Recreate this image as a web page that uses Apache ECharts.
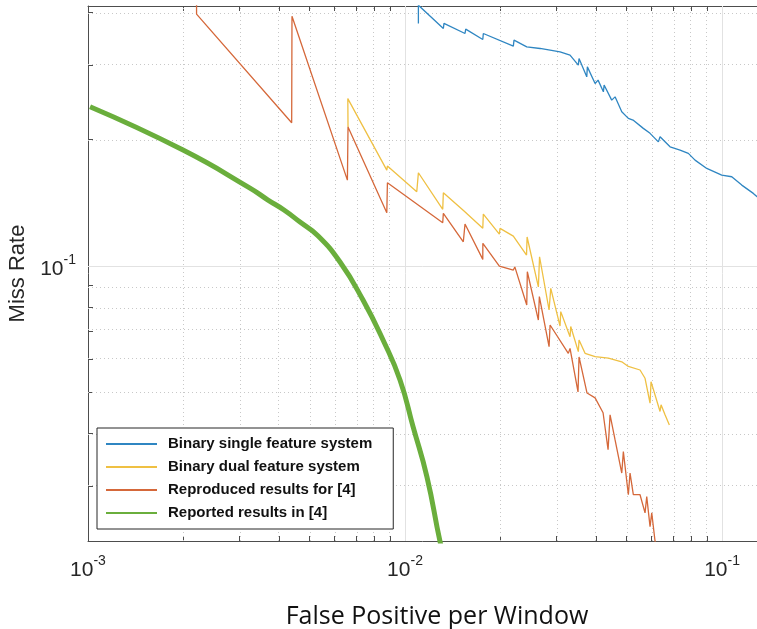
<!DOCTYPE html>
<html>
<head>
<meta charset="utf-8">
<title>Miss Rate vs False Positive per Window</title>
<script src="https://cdn.jsdelivr.net/npm/echarts@6/dist/echarts.min.js"></script>
<style>
  html, body { margin: 0; padding: 0; background: #fff; }
  #chart { width: 757px; height: 629px; }
</style>
</head>
<body>
<div id="chart"></div>
<script>
// values: [false positive per window, miss rate]
var binarySingle = [
  [0.01102, 0.3772], [0.01102, 0.4169], [0.01321, 0.367], [0.01327, 0.3772], [0.01546, 0.357],
  [0.01554, 0.3656], [0.01759, 0.3456], [0.01766, 0.357], [0.02196, 0.3331], [0.02207, 0.3443],
  [0.02421, 0.3318], [0.02667, 0.3289], [0.03083, 0.3228], [0.03128, 0.3259], [0.03315, 0.3171],
  [0.03521, 0.3002], [0.03539, 0.3114], [0.03743, 0.2816], [0.0376, 0.2974], [0.03977, 0.2716],
  [0.04064, 0.2766], [0.04224, 0.2594], [0.04246, 0.2692], [0.04487, 0.2479], [0.04598, 0.2524],
  [0.04827, 0.2326], [0.05063, 0.2244], [0.05238, 0.2223], [0.05645, 0.2124], [0.05928, 0.2067],
  [0.06297, 0.1973], [0.06374, 0.2028], [0.06855, 0.192], [0.07371, 0.1886], [0.07829, 0.1852],
  [0.07925, 0.1868], [0.08219, 0.1785], [0.08949, 0.1706], [0.09977, 0.1645], [0.1073, 0.163],
  [0.1154, 0.1557], [0.1255, 0.1488], [0.129, 0.1461], [0.1367, 0.1435]
];
var binaryDual = [
  [0.00661, 0.214], [0.0066, 0.250], [0.00876, 0.169], [0.0088, 0.1728], [0.01089, 0.1501],
  [0.01102, 0.1666], [0.01315, 0.1364], [0.01321, 0.1493], [0.01535, 0.1351], [0.01759, 0.1229],
  [0.01766, 0.1329], [0.01984, 0.1191], [0.01994, 0.1229], [0.02196, 0.1178], [0.02417, 0.1062],
  [0.02427, 0.1172], [0.02634, 0.0892], [0.02657, 0.1052], [0.02847, 0.0786], [0.02882, 0.0885],
  [0.03083, 0.072], [0.03099, 0.0779], [0.03315, 0.0679], [0.03332, 0.0718], [0.03521, 0.0626],
  [0.03539, 0.0667], [0.03697, 0.062], [0.03977, 0.0609], [0.04379, 0.0604], [0.04827, 0.0592],
  [0.05063, 0.0577], [0.05512, 0.0566], [0.05716, 0.0541], [0.05928, 0.0472], [0.0597, 0.0531],
  [0.06374, 0.0451], [0.06421, 0.0468], [0.06609, 0.0443], [0.0682, 0.0419]
];
var reproduced = [
  [0.0022, 0.419], [0.0022, 0.397], [0.00439, 0.219], [0.0044, 0.3925], [0.00658, 0.160],
  [0.00661, 0.214], [0.00876, 0.1339], [0.0088, 0.1577], [0.01315, 0.1267], [0.01321, 0.1334],
  [0.01527, 0.1142], [0.01546, 0.1258], [0.01759, 0.1037], [0.0176, 0.1132], [0.01984, 0.100],
  [0.02196, 0.0978], [0.0222, 0.0995], [0.02421, 0.0808], [0.02431, 0.0969], [0.02634, 0.0744],
  [0.02653, 0.0846], [0.02847, 0.0643], [0.02868, 0.0724], [0.03274, 0.062], [0.03315, 0.0637],
  [0.03513, 0.0502], [0.03539, 0.0608], [0.03751, 0.0499], [0.03977, 0.0486], [0.04214, 0.0448],
  [0.0437, 0.0366], [0.04434, 0.0443], [0.04598, 0.0386], [0.04827, 0.0322], [0.04883, 0.0362],
  [0.05063, 0.0286], [0.05126, 0.0322], [0.0525, 0.0286], [0.05512, 0.0286], [0.05716, 0.0259],
  [0.05787, 0.0283], [0.05928, 0.024], [0.06001, 0.0259], [0.06146, 0.0222], [0.06237, 0.0211]
];
var reported = [
  [0.001015, 0.239], [0.001994, 0.1886], [0.003243, 0.1532], [0.003697, 0.1435], [0.004152, 0.1359],
  [0.004665, 0.1272], [0.005279, 0.1185], [0.006237, 0.1022], [0.00737, 0.083], [0.008524, 0.0667],
  [0.009643, 0.0536], [0.0106, 0.0415], [0.01173, 0.0315], [0.0129, 0.0221], [0.01337, 0.02]
];

var seriesNames = [
  'Binary single feature system',
  'Binary dual feature system',
  'Reproduced results for [4]',
  'Reported results in [4]'
];

// axis ranges and tick positions (both axes are log10)
var xRange = [0.001, 0.1289];
var yRange = [0.0222, 0.415];
var xMajor = [0.001, 0.01, 0.1];
var yMajor = [0.1];
var minorSteps = [2, 3, 4, 5, 6, 7, 8, 9];

var lg = Math.log10;

function minorValues(range) {
  var out = [];
  for (var d = Math.floor(lg(range[0])); d <= Math.ceil(lg(range[1])); d++) {
    minorSteps.forEach(function (k) {
      var v = k * Math.pow(10, d);
      if (v > range[0] && v < range[1]) out.push(v);
    });
  }
  return out;
}

function toLog(points) {
  return points.map(function (p) { return [lg(p[0]), lg(p[1])]; });
}

var xMinor = minorValues(xRange);
var yMinor = minorValues(yRange);
var xTickVals = xMajor.concat(xMinor).map(lg);
var yTickVals = yMajor.concat(yMinor).map(lg);

function powLabel(v) {
  var e = Math.round(v);
  if (Math.abs(v - e) > 1e-6) return '';
  return '{b|10}{s|' + e + '}';
}

var axisColor = '#4d4d4d';
// "10" with a raised exponent
var labelRich = {
  b: { fontFamily: 'Liberation Sans', fontSize: 21, color: '#262626', lineHeight: 40 },
  s: { fontFamily: 'Liberation Sans', fontSize: 14, color: '#262626', lineHeight: 14, verticalAlign: 'top', padding: [4, 0, 0, 0] }
};

var myChart = echarts.init(document.getElementById('chart'));

myChart.setOption({
  backgroundColor: '#fff',
  animation: false,
  grid: { left: 88, right: 0, top: 6, bottom: 88, outerBoundsMode: 'none', containLabel: false },
  legend: {
    data: seriesNames,
    orient: 'vertical',
    left: 97,
    top: 428,
    icon: 'rect',
    itemWidth: 51,
    itemHeight: 2,
    itemGap: 7,
    padding: [8, 21, 8, 9],
    backgroundColor: '#fff',
    borderColor: '#262626',
    borderWidth: 1,
    borderRadius: 0,
    selectedMode: false,
    textStyle: {
      fontFamily: 'Liberation Sans',
      fontWeight: 'bold',
      fontSize: 15,
      lineHeight: 16,
      color: '#111',
      padding: [0, 0, 0, 6]
    }
  },
  xAxis: [
    {
      type: 'value',
      min: lg(xRange[0]),
      max: lg(xRange[1]),
      interval: 1,
      name: 'False Positive per Window',
      nameLocation: 'middle',
      nameGap: 63,
      nameTextStyle: { fontFamily: 'Open Sans', fontSize: 25, color: '#111', padding: [0, 0, 0, 29] },
      axisLine: { show: true, onZero: false, lineStyle: { color: axisColor, width: 1 } },
      axisTick: { show: true, inside: true, length: 5, customValues: xTickVals, lineStyle: { color: axisColor } },
      axisLabel: { margin: 9, customValues: xMajor.map(lg), formatter: powLabel, rich: labelRich },
      splitLine: { show: false }
    },
    {
      type: 'value',
      position: 'top',
      min: lg(xRange[0]),
      max: lg(xRange[1]),
      interval: 1,
      axisLine: { show: true, onZero: false, lineStyle: { color: axisColor, width: 1 } },
      axisTick: { show: true, inside: true, length: 5, customValues: xTickVals, lineStyle: { color: axisColor } },
      axisLabel: { show: false },
      splitLine: { show: false }
    }
  ],
  yAxis: {
    type: 'value',
    min: lg(yRange[0]),
    max: lg(yRange[1]),
    name: 'Miss Rate',
    nameLocation: 'middle',
    nameRotate: 90,
    nameGap: 44,
    nameTextStyle: { fontFamily: 'Liberation Sans', fontSize: 22, color: '#262626' },
    axisLine: { show: true, onZero: false, lineStyle: { color: axisColor, width: 1 } },
    axisTick: { show: true, inside: true, length: 5, customValues: yTickVals, lineStyle: { color: axisColor } },
    axisLabel: { margin: 12, padding: [7, 0, 0, 0], customValues: yMajor.map(lg), formatter: powLabel, rich: labelRich },
    splitLine: { show: false }
  },
  series: [
    // grid lines: dotted at 2..9 of each decade, solid at decades
    {
      name: 'gridMinor',
      type: 'line',
      data: [],
      z: 1,
      silent: true,
      markLine: {
        silent: true,
        z: 1,
        symbol: 'none',
        label: { show: false },
        lineStyle: { color: '#c8c8c8', type: [1, 3], width: 1 },
        data: xMinor.map(function (v) { return { xAxis: lg(v) }; })
          .concat(yMinor.map(function (v) { return { yAxis: lg(v) }; }))
      }
    },
    {
      name: 'gridMajor',
      type: 'line',
      data: [],
      z: 1,
      silent: true,
      markLine: {
        silent: true,
        z: 1,
        symbol: 'none',
        label: { show: false },
        lineStyle: { color: '#e2e2e2', type: 'solid', width: 1 },
        data: xMajor.slice(1).map(function (v) { return { xAxis: lg(v) }; })
          .concat(yMajor.map(function (v) { return { yAxis: lg(v) }; }))
      }
    },
    {
      name: seriesNames[0],
      type: 'line',
      color: '#2f86c2',
      symbol: 'none',
      z: 3,
      lineStyle: { width: 1.3 },
      data: toLog(binarySingle)
    },
    {
      name: seriesNames[1],
      type: 'line',
      color: '#efc043',
      symbol: 'none',
      z: 3,
      lineStyle: { width: 1.3 },
      data: toLog(binaryDual)
    },
    {
      name: seriesNames[2],
      type: 'line',
      color: '#d5683a',
      symbol: 'none',
      z: 3,
      lineStyle: { width: 1.3 },
      data: toLog(reproduced)
    },
    {
      name: seriesNames[3],
      type: 'line',
      color: '#6aae3c',
      symbol: 'none',
      smooth: true,
      z: 3,
      lineStyle: { width: 5 },
      data: toLog(reported)
    }
  ]
});
</script>
</body>
</html>
